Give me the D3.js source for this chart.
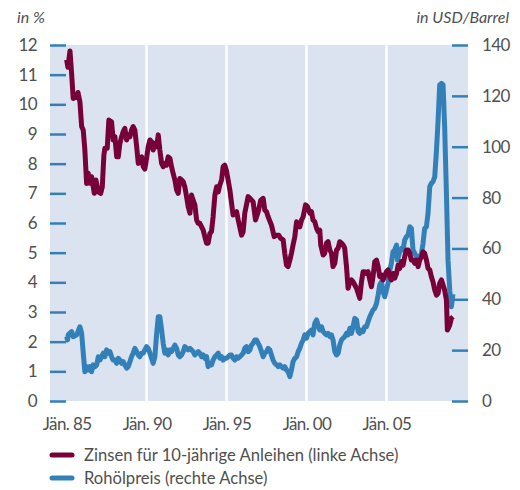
<!DOCTYPE html>
<html>
<head>
<meta charset="utf-8">
<script src="https://cdn.jsdelivr.net/npm/d3@7"></script>
<style>
  body { margin: 0; background: #fff; }
  svg text { font-family: Lato, "Open Sans", sans-serif; fill: #505050; }
</style>
</head>
<body>
<div class="chart"></div>
<script>
// 10-year bond yield (left axis, %), decimal years
var yieldDates = [1985.00,1985.08,1985.21,1985.31,1985.41,1985.63,1985.71,1985.83,1985.94,1986.04,1986.14,1986.25,1986.35,1986.46,1986.56,1986.73,1986.83,1986.98,1987.13,1987.23,1987.33,1987.39,1987.54,1987.64,1987.81,1987.91,1988.02,1988.13,1988.23,1988.33,1988.44,1988.54,1988.64,1988.75,1988.85,1988.96,1989.06,1989.16,1989.27,1989.38,1989.48,1989.58,1989.69,1989.79,1989.89,1990.00,1990.10,1990.21,1990.31,1990.41,1990.52,1990.63,1990.73,1990.83,1990.94,1991.04,1991.14,1991.25,1991.35,1991.46,1991.56,1991.66,1991.77,1991.88,1991.98,1992.08,1992.19,1992.29,1992.39,1992.50,1992.60,1992.71,1992.81,1992.91,1993.02,1993.13,1993.23,1993.33,1993.44,1993.54,1993.64,1993.75,1993.85,1993.96,1994.06,1994.16,1994.27,1994.38,1994.48,1994.58,1994.69,1994.79,1994.89,1995.00,1995.10,1995.21,1995.41,1995.63,1995.73,1995.94,1996.04,1996.14,1996.35,1996.46,1996.66,1996.81,1996.98,1997.14,1997.29,1997.39,1997.50,1997.60,1997.81,1997.98,1998.13,1998.27,1998.39,1998.54,1998.64,1998.75,1998.85,1998.96,1999.06,1999.16,1999.27,1999.38,1999.48,1999.58,1999.69,1999.79,1999.94,2000.06,2000.21,2000.31,2000.41,2000.52,2000.63,2000.73,2000.83,2000.89,2001.04,2001.14,2001.25,2001.35,2001.46,2001.56,2001.66,2001.77,2001.88,2001.98,2002.08,2002.19,2002.29,2002.39,2002.50,2002.60,2002.71,2002.81,2002.91,2003.02,2003.13,2003.23,2003.33,2003.44,2003.54,2003.64,2003.75,2003.85,2003.96,2004.06,2004.16,2004.27,2004.38,2004.48,2004.58,2004.69,2004.79,2004.89,2005.00,2005.10,2005.21,2005.31,2005.41,2005.52,2005.63,2005.73,2005.83,2005.94,2006.04,2006.14,2006.25,2006.35,2006.46,2006.56,2006.66,2006.77,2006.88,2006.98,2007.08,2007.19,2007.29,2007.39,2007.50,2007.60,2007.71,2007.81,2007.91,2008.02,2008.13,2008.23,2008.33,2008.44,2008.54,2008.64,2008.75,2008.81,2008.96,2009.06,2009.16];
var yieldValues = [11.5,11.25,11.8,11.05,10.2,10.26,10.4,10.09,9.25,9.13,8.46,7.33,7.68,7.34,7.56,7.0,7.45,7.05,7.0,7.22,8.29,8.52,8.52,9.47,9.41,8.8,8.91,8.23,8.23,8.68,8.91,9.08,9.19,8.8,8.97,8.91,9.13,9.25,9.13,8.57,8.01,8.18,8.23,7.9,7.82,8.18,8.57,8.8,8.74,8.46,8.69,8.57,8.97,8.46,8.01,7.9,8.01,7.95,8.23,8.18,7.9,7.67,7.45,7.11,7.0,7.5,7.45,7.39,7.22,6.89,6.55,6.33,6.94,6.77,6.61,6.1,5.99,5.99,5.87,5.76,5.54,5.32,5.32,5.65,5.71,6.21,6.94,7.22,7.05,7.28,7.45,7.9,7.95,7.75,7.45,7.11,6.27,6.38,6.1,5.59,5.71,6.33,6.89,6.83,6.72,6.1,6.38,6.77,6.83,6.44,6.38,6.21,5.93,5.54,5.59,5.59,5.48,5.43,4.98,4.58,4.53,4.75,4.98,5.26,5.54,6.04,5.93,5.87,6.1,6.21,6.61,6.55,6.33,6.38,6.1,6.04,5.82,5.71,5.76,5.26,4.92,4.98,5.32,5.37,5.09,4.98,4.53,4.64,5.09,5.15,5.37,5.32,5.26,5.15,4.53,3.8,4.02,4.08,4.02,3.91,3.8,3.63,3.46,4.02,4.36,4.36,4.3,4.36,4.08,3.85,4.19,4.7,4.75,4.53,4.19,4.25,4.08,4.22,4.36,4.42,4.19,4.08,4.3,4.14,4.3,4.58,4.47,4.7,4.58,4.86,5.09,5.09,4.98,4.75,4.75,4.64,4.75,4.53,4.75,4.86,5.03,4.98,4.75,4.47,4.42,4.19,4.02,3.74,3.57,3.63,3.97,4.08,3.91,3.74,3.4,2.39,2.56,2.79,2.84];

// crude oil price (right axis, USD/barrel), decimal years
var oilDates = [1985.00,1985.06,1985.10,1985.31,1985.41,1985.63,1985.83,1985.94,1986.04,1986.14,1986.25,1986.35,1986.46,1986.56,1986.66,1986.77,1986.88,1986.98,1987.08,1987.19,1987.29,1987.39,1987.50,1987.60,1987.71,1987.81,1987.91,1988.02,1988.13,1988.23,1988.33,1988.44,1988.54,1988.64,1988.75,1988.85,1988.96,1989.06,1989.16,1989.27,1989.38,1989.48,1989.58,1989.69,1989.79,1989.89,1990.00,1990.10,1990.21,1990.31,1990.41,1990.52,1990.63,1990.73,1990.83,1990.94,1991.04,1991.14,1991.25,1991.35,1991.46,1991.56,1991.66,1991.77,1991.88,1991.98,1992.08,1992.19,1992.29,1992.39,1992.50,1992.60,1992.71,1992.81,1992.91,1993.02,1993.13,1993.23,1993.33,1993.44,1993.54,1993.64,1993.75,1993.85,1993.96,1994.06,1994.16,1994.27,1994.38,1994.48,1994.58,1994.69,1994.79,1994.89,1995.00,1995.10,1995.21,1995.31,1995.41,1995.52,1995.63,1995.73,1995.83,1995.94,1996.04,1996.14,1996.25,1996.35,1996.46,1996.56,1996.66,1996.77,1996.88,1996.98,1997.08,1997.19,1997.29,1997.39,1997.50,1997.60,1997.71,1997.81,1997.91,1998.02,1998.13,1998.23,1998.33,1998.44,1998.54,1998.64,1998.75,1998.85,1998.96,1999.06,1999.16,1999.27,1999.38,1999.48,1999.58,1999.69,1999.79,1999.89,2000.00,2000.10,2000.21,2000.31,2000.41,2000.52,2000.63,2000.73,2000.83,2000.94,2001.04,2001.14,2001.25,2001.35,2001.46,2001.56,2001.66,2001.77,2001.88,2001.98,2002.08,2002.19,2002.29,2002.39,2002.50,2002.60,2002.71,2002.81,2002.91,2003.02,2003.13,2003.23,2003.33,2003.44,2003.54,2003.64,2003.75,2003.85,2003.96,2004.06,2004.16,2004.27,2004.38,2004.48,2004.58,2004.69,2004.79,2004.89,2005.00,2005.10,2005.21,2005.31,2005.41,2005.52,2005.63,2005.69,2005.83,2005.94,2006.04,2006.14,2006.25,2006.35,2006.46,2006.56,2006.66,2006.77,2006.88,2006.98,2007.08,2007.19,2007.29,2007.39,2007.50,2007.60,2007.71,2007.81,2007.91,2008.02,2008.13,2008.23,2008.33,2008.44,2008.54,2008.64,2008.75,2008.85,2008.96,2009.06,2009.16];
var oilValues = [25.3,24.0,26.0,27.3,25.3,26.0,29.2,26.6,18.8,11.5,13.5,12.2,13.5,11.5,14.2,13.5,14.2,17.4,16.1,17.4,18.8,17.4,20.1,18.8,19.4,17.4,16.1,16.1,14.8,16.8,16.1,14.8,15.5,14.2,12.9,13.5,15.5,17.4,18.8,20.7,19.4,18.1,17.4,18.8,18.8,20.1,21.4,20.7,18.8,16.8,14.8,17.4,26.6,33.1,33.1,27.9,22.7,18.8,20.1,18.1,20.1,19.4,20.7,22.0,20.7,18.1,17.4,18.1,19.4,21.4,20.7,20.1,20.7,20.1,19.4,18.1,18.8,19.4,18.8,17.4,18.1,16.8,17.4,13.5,14.8,14.2,16.1,17.4,18.1,18.8,16.8,17.4,16.1,16.8,16.8,17.4,18.1,18.1,16.8,16.1,17.4,16.8,17.4,18.1,18.8,20.7,21.4,19.4,20.1,22.0,22.7,24.0,24.0,22.7,21.4,19.4,17.4,18.8,19.4,20.7,20.1,18.1,16.1,14.8,14.2,13.5,14.2,13.5,12.9,13.5,12.2,11.5,9.6,12.2,15.5,16.8,17.4,19.4,20.7,22.7,24.0,26.0,24.7,26.6,27.3,27.9,26.0,30.6,31.9,29.9,27.9,29.2,27.3,26.6,26.0,26.6,25.3,26.0,24.0,19.4,18.1,18.8,22.0,24.0,24.7,25.3,26.6,26.0,28.6,26.6,29.2,32.5,31.9,27.3,26.6,27.9,27.3,29.2,29.2,31.2,33.1,34.5,35.8,36.5,38.4,41.7,45.6,46.9,43.0,41.0,43.6,46.3,51.5,54.1,58.7,59.4,61.3,55.4,58.7,60.0,59.4,63.3,64.6,65.3,68.5,67.9,59.4,58.1,56.7,55.4,56.7,58.1,62.0,67.9,68.5,73.8,84.3,85.6,86.2,88.2,98.7,110.5,124.3,124.9,124.3,107.9,81.7,55.4,43.6,37.1,42.0];

var xTickYears = [1985, 1990, 1995, 2000, 2005];
var gridYears = [1990, 1995, 2000, 2005];
var leftTicks = [0,1,2,3,4,5,6,7,8,9,10,11,12];
var rightTicks = [0,20,40,60,80,100,120,140];
var legendLabels = ["Zinsen für 10-jährige Anleihen (linke Achse)", "Rohölpreis (rechte Achse)"];

var colYield = "#770039",
    colOil = "#3380b8",
    colBg = "#dae3ef";

var width = 520, height = 490;
var plotL = 50, plotR = 468, plotT = 45, plotB = 401;

var svg = d3.select(".chart").append("svg")
    .attr("width", width)
    .attr("height", height);

var x = d3.scaleLinear().domain([1983.96, 2010.1]).range([plotL, plotR]);
var yL = d3.scaleLinear().domain([0, 12]).range([plotB, plotT]);
var yR = d3.scaleLinear().domain([0, 140]).range([plotB, plotT]);

svg.append("rect")
    .attr("x", plotL).attr("y", plotT)
    .attr("width", plotR - plotL).attr("height", plotB - plotT)
    .attr("fill", colBg);

svg.selectAll("line.grid")
    .data(gridYears)
    .enter().append("line")
    .attr("class", "grid")
    .attr("x1", function(d) { return x(d); })
    .attr("x2", function(d) { return x(d); })
    .attr("y1", plotT).attr("y2", plotB)
    .attr("stroke", "#fff")
    .attr("stroke-width", 2.5);

// axes
var leftAxis = svg.append("g")
    .attr("transform", "translate(" + plotL + ",0)")
    .call(d3.axisLeft(yL).tickValues(leftTicks).tickSize(-16).tickPadding(13));

var rightAxis = svg.append("g")
    .attr("transform", "translate(" + plotR + ",0)")
    .call(d3.axisRight(yR).tickValues(rightTicks).tickSize(-16).tickPadding(14));

var bottomAxis = svg.append("g")
    .attr("transform", "translate(0," + plotB + ")")
    .call(d3.axisBottom(x).tickValues(xTickYears).tickSize(0).tickPadding(17)
      .tickFormat(function(d) { return "Jän. " + String(d).slice(2); }));

[leftAxis, rightAxis, bottomAxis].forEach(function(g) {
  g.select(".domain").remove();
  g.selectAll(".tick line").attr("stroke", colOil).attr("stroke-width", 2.5);
  g.selectAll(".tick text")
    .attr("font-size", 17)
    .attr("letter-spacing", "-0.6")
    .attr("fill", "#505050");
});

// unit labels
svg.append("text")
    .attr("x", 17).attr("y", 23)
    .attr("font-size", 16).attr("font-style", "italic")
    .text("in %");
svg.append("text")
    .attr("x", 509).attr("y", 23)
    .attr("text-anchor", "end")
    .attr("font-size", 16).attr("font-style", "italic")
    .text("in USD/Barrel");

// lines
var oilLine = d3.line()
    .x(function(d, i) { return x(oilDates[i]); })
    .y(function(d) { return yR(d); });
var yieldLine = d3.line()
    .x(function(d, i) { return x(yieldDates[i]); })
    .y(function(d) { return yL(d); });

svg.append("path")
    .datum(oilValues)
    .attr("d", oilLine)
    .attr("fill", "none")
    .attr("stroke", colOil)
    .attr("stroke-width", 5)
    .attr("stroke-linejoin", "round");

svg.append("path")
    .datum(yieldValues)
    .attr("d", yieldLine)
    .attr("fill", "none")
    .attr("stroke", colYield)
    .attr("stroke-width", 5)
    .attr("stroke-linejoin", "round");

// legend
var legend = svg.selectAll("g.legend")
    .data(legendLabels)
    .enter().append("g")
    .attr("class", "legend")
    .attr("transform", function(d, i) { return "translate(52," + (455 + i * 23) + ")"; });

legend.append("line")
    .attr("x1", 0).attr("x2", 20)
    .attr("stroke", function(d, i) { return i === 0 ? colYield : colOil; })
    .attr("stroke-width", 5)
    .attr("stroke-linecap", "round");

legend.append("text")
    .attr("x", 32).attr("dy", "0.35em")
    .attr("font-size", 16.6)
    .text(function(d) { return d; });
</script>
</body>
</html>
